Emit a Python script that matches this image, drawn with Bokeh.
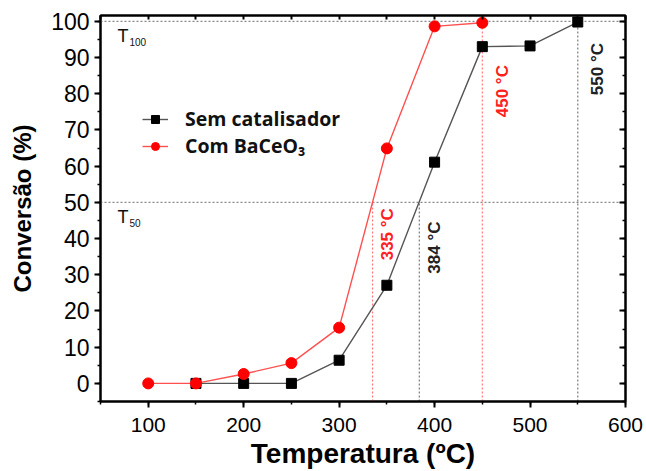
import math
from bokeh.plotting import figure
from bokeh.models import (LinearAxis, SingleIntervalTicker, Range1d, Legend,
                          LegendItem, Label, CustomJSTickFormatter)
from bokeh.embed import file_html
from bokeh.resources import INLINE

# ---------------- data ----------------
temp_sem = [150, 200, 250, 300, 350, 400, 450, 500, 550]
conv_sem = [0, 0, 0, 6.4, 27.1, 61.1, 93.0, 93.2, 99.8]

temp_com = [100, 150, 200, 250, 300, 350, 400, 450]
conv_com = [0, 0, 2.6, 5.6, 15.4, 64.9, 98.6, 99.6]

label_sem = "Sem catalisador"
label_com = "Com BaCeO₃"

# characteristic temperatures (T50 and T100)
t50_temps = [335, 384]
t50_colors = ["#ff2020", "#222222"]
t50_label_y = [41.2, 37.5]
t100_temps = [450, 550]
t100_colors = ["#ff2020", "#222222"]
t100_label_y = [80.7, 86.8]
levels = [50, 100]
level_names = ["50", "100"]

x_lo, x_hi = 50, 600
y_lo, y_hi = -5, 101.6

FONT = "Liberation Sans"

p = figure(width=646, height=471, x_range=Range1d(x_lo, x_hi),
           y_range=Range1d(y_lo, y_hi), output_backend="svg",
           toolbar_location=None, min_border_left=100, min_border_right=21,
           min_border_top=15, min_border_bottom=69)
p.grid.visible = False
p.outline_line_color = "black"
p.outline_line_width = 2
p.background_fill_color = "white"
p.border_fill_color = "white"

# ---------------- axes ----------------
p.xaxis.ticker = SingleIntervalTicker(interval=100, num_minor_ticks=2)
p.yaxis.ticker = SingleIntervalTicker(interval=10, num_minor_ticks=2)
for ax in (p.xaxis[0], p.yaxis[0]):
    ax.axis_line_width = 2
    ax.major_tick_line_width = 2
    ax.minor_tick_line_width = 1.5
    ax.major_tick_in = 0
    ax.major_tick_out = 6
    ax.minor_tick_in = 0
    ax.minor_tick_out = 3
    ax.major_label_text_font = FONT
    ax.major_label_text_color = "black"
    ax.axis_label_text_font = FONT
    ax.axis_label_text_font_style = "bold"
    ax.axis_label_text_color = "black"
p.xaxis.major_label_text_font_size = "21px"
p.yaxis.major_label_text_font_size = "23px"
p.xaxis.major_label_standoff = 10
p.yaxis.major_label_standoff = 5
p.xaxis.axis_label = "Temperatura (ºC)"
p.yaxis.axis_label = "Conversão (%)"
p.xaxis.axis_label_text_font_size = "28px"
p.yaxis.axis_label_text_font_size = "24px"
p.xaxis.axis_label_standoff = 3
p.yaxis.axis_label_standoff = 12

blank = CustomJSTickFormatter(code="return ''")
top_ax = LinearAxis(ticker=SingleIntervalTicker(interval=50, num_minor_ticks=0),
                    formatter=blank, major_tick_in=4,
                    major_tick_out=0, minor_tick_in=0, minor_tick_out=0,
                    axis_line_width=2, major_tick_line_width=2,
                    major_label_standoff=0, axis_label_standoff=0)
p.add_layout(top_ax, "above")
right_ax = LinearAxis(ticker=SingleIntervalTicker(interval=10, num_minor_ticks=2),
                      formatter=blank, major_tick_in=6,
                      major_tick_out=0, minor_tick_in=3, minor_tick_out=0,
                      axis_line_width=2, major_tick_line_width=2,
                      minor_tick_line_width=1.5,
                      major_label_standoff=0, axis_label_standoff=0)
p.add_layout(right_ax, "right")

# ---------------- reference lines ----------------
for lv in levels:
    p.segment(x0=[x_lo], y0=[lv], x1=[x_hi], y1=[lv], line_color="#888888",
              line_width=1.2, line_dash="2 2")
for t, c in zip(t50_temps, t50_colors):
    p.segment(x0=[t], y0=[y_lo], x1=[t], y1=[levels[0]], line_color=c,
              line_alpha=0.6, line_width=1.2, line_dash="2 2")
for t, c in zip(t100_temps, t100_colors):
    p.segment(x0=[t], y0=[y_lo], x1=[t], y1=[levels[1]], line_color=c,
              line_alpha=0.6, line_width=1.2, line_dash="2 2")

# ---------------- series ----------------
l_sem = p.line(temp_sem, conv_sem, line_color="#555555", line_width=1.4)
s_sem = p.scatter(temp_sem, conv_sem, marker="square", size=10,
                  fill_color="black", line_color="black")
l_com = p.line(temp_com, conv_com, line_color="#ff5050", line_width=1.4)
s_com = p.scatter(temp_com, conv_com, marker="circle", size=11,
                  fill_color="#ff0000", line_color="#ff0000")

legend = Legend(items=[LegendItem(label=label_sem, renderers=[l_sem, s_sem]),
                       LegendItem(label=label_com, renderers=[l_com, s_com])],
                location=(42, 242), orientation="vertical",
                label_text_font="Open Sans", label_text_font_style="bold",
                label_text_font_size="19.5px", label_text_color="#111111",
                glyph_width=26, glyph_height=20, label_height=20,
                label_standoff=17, spacing=0, padding=0, margin=0,
                border_line_alpha=0, background_fill_alpha=0)
p.add_layout(legend)

# ---------------- annotations ----------------
for t, c, yy in zip(t50_temps, t50_colors, t50_label_y):
    p.add_layout(Label(x=t, y=yy, x_offset=15, text=f"{t} °C", angle=math.pi / 2,
                       text_align="center", text_baseline="middle",
                       text_font=FONT, text_font_style="bold",
                       text_font_size="17px", text_color=c))
for t, c, yy in zip(t100_temps, t100_colors, t100_label_y):
    p.add_layout(Label(x=t, y=yy, x_offset=20, text=f"{t} °C", angle=math.pi / 2,
                       text_align="center", text_baseline="middle",
                       text_font=FONT, text_font_style="bold",
                       text_font_size="17px", text_color=c))

for lv, name in zip(levels, level_names):
    p.add_layout(Label(x=x_lo, y=lv, x_offset=17, y_offset=-15, text="T",
                       text_font=FONT, text_font_size="18px",
                       text_color="#111111", text_baseline="alphabetic"))
    p.add_layout(Label(x=x_lo, y=lv, x_offset=29, y_offset=-21, text=name,
                       text_font=FONT, text_font_size="10px",
                       text_color="#111111", text_baseline="alphabetic"))

open("out.html", "w").write(file_html(p, INLINE))
